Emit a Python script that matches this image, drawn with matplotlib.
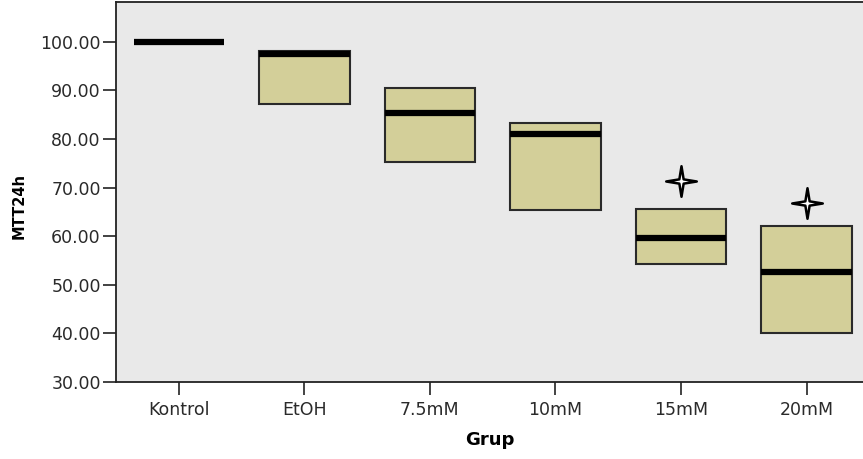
import matplotlib.pyplot as plt
from matplotlib.path import Path

# MTT 24h viability per group (box statistics)
groups = ['Kontrol', 'EtOH', '7.5mM', '10mM', '15mM', '20mM']
q1 = [100.0, 87.2, 75.2, 65.4, 54.2, 40.0]
medians = [100.0, 97.5, 85.3, 81.0, 59.6, 52.7]
q3 = [100.0, 98.1, 90.6, 83.3, 65.6, 62.0]
outliers = [[], [], [], [], [71.4], [66.9]]

plt.rcParams['font.family'] = ['DejaVu Sans']

# four-pointed star used for extreme values
star = Path([(0, 1), (0.14, 0.14), (1, 0), (0.14, -0.14), (0, -1),
             (-0.14, -0.14), (-1, 0), (-0.14, 0.14), (0, 1)],
            [Path.MOVETO] + [Path.LINETO] * 7 + [Path.CLOSEPOLY])

stats = []
for i, name in enumerate(groups):
    stats.append({'label': name, 'med': medians[i], 'q1': q1[i], 'q3': q3[i],
                  'whislo': q1[i], 'whishi': q3[i], 'fliers': outliers[i]})

fig = plt.figure(figsize=(8.63, 4.59), dpi=100)
ax = fig.add_axes([0.1344, 0.1678, 0.8656, 0.8278])
ax.set_facecolor('#e9e9e9')

ax.bxp(stats, positions=range(len(groups)), widths=0.72, patch_artist=True,
       showcaps=False,
       boxprops=dict(facecolor='#d3cf99', edgecolor='#2a2a2a', linewidth=1.5),
       medianprops=dict(color='black', linewidth=4.5, solid_capstyle='butt'),
       whiskerprops=dict(linewidth=0),
       flierprops=dict(marker=star, markersize=22, markerfacecolor='white',
                       markeredgecolor='black', markeredgewidth=1.8))

ax.set_xlim(-0.5, 5.45)
ax.set_ylim(30, 108.2)
ax.set_yticks([30, 40, 50, 60, 70, 80, 90, 100])
ax.set_yticklabels([f'{v:.2f}' for v in ax.get_yticks()])
ax.set_xticks(range(len(groups)))
ax.set_xticklabels(groups)

ax.tick_params(axis='both', direction='out', length=9.5, width=1.2,
               labelsize=12.5, labelcolor='#2a2a2a', color='#222222')
ax.tick_params(axis='y', pad=1.5)
ax.tick_params(axis='x', pad=4)
for side in ['left', 'bottom', 'top']:
    ax.spines[side].set_linewidth(1.3)
    ax.spines[side].set_color('#222222')
ax.spines['right'].set_visible(False)

ax.set_ylabel('MTT24h', fontsize=10.5, fontweight='bold')
ax.yaxis.set_label_coords(-0.119, 0.463)
ax.set_xlabel('Grup', fontsize=13, fontweight='bold')
ax.xaxis.set_label_coords(0.5, -0.13)

fig.savefig('out.png', dpi=100)
